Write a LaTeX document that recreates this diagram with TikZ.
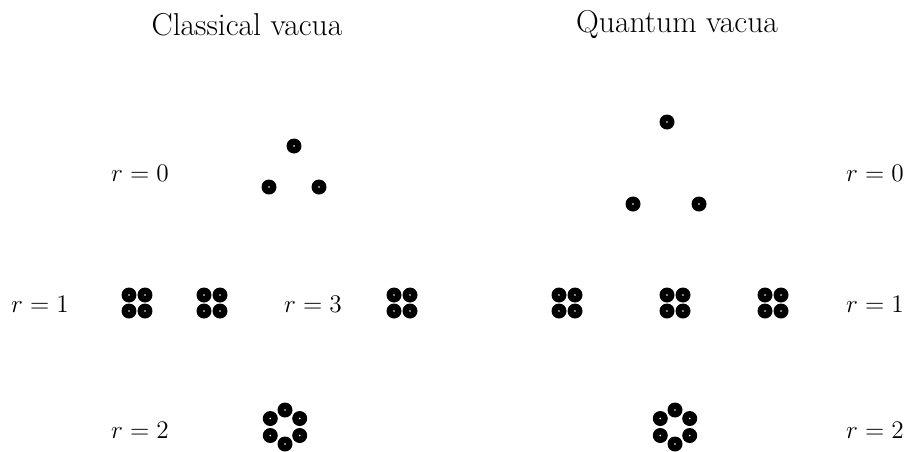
\documentclass[tikz,border=0pt]{standalone}
\begin{document}
\begin{tikzpicture}[
    x=0.02cm, y=-0.02cm,
    title/.style={font=\fontsize{18}{22}\selectfont, anchor=center},
    lbl/.style={font=\fontsize{15.5}{18}\selectfont, anchor=center},
    vac/.style={circle, fill=black, inner sep=0pt, minimum size=0.3cm,
        path picture={\fill[white] (path picture bounding box.center) circle (0.5pt);}}
]
\useasboundingbox (0,0) rectangle (910,451);

% Titles
\node[title] (tclass) at (247, 25) {Classical vacua};
\node[title] (tquant) at (677, 25) {Quantum vacua};

% Labels
\node[lbl] (cr0) at (140, 173) {$r=0$};
\node[lbl] (cr1) at (40, 304) {$r=1$};
\node[lbl] (cr3) at (313, 304) {$r=3$};
\node[lbl] (cr2) at (140, 430) {$r=2$};
\node[lbl] (qr0) at (875, 173) {$r=0$};
\node[lbl] (qr1) at (875, 304) {$r=1$};
\node[lbl] (qr2) at (875, 430) {$r=2$};

% Classical triangle
\node[vac] (ct1) at (294, 146) {};
\node[vac] (ct2) at (269, 187) {};
\node[vac] (ct3) at (319, 187) {};

% Quantum triangle
\node[vac] (qt1) at (667, 122) {};
\node[vac] (qt2) at (633, 204) {};
\node[vac] (qt3) at (699, 204) {};

% Quadruplets
\foreach \name/\cx in {ca/137, cb/212, cc/402, qa/567, qb/675, qc/773} {
    \node[vac] (\name1) at (\cx-8, 295) {};
    \node[vac] (\name2) at (\cx+8, 295) {};
    \node[vac] (\name3) at (\cx-8, 311) {};
    \node[vac] (\name4) at (\cx+8, 311) {};
}

% Hexagons
\foreach \name/\cx in {ch/285, qh/675} {
    \foreach \i in {1,...,6} {
        \node[vac] (\name\i) at ([shift={(\cx,427)}] 90+60*\i:17) {};
    }
}

\end{tikzpicture}
\end{document}
